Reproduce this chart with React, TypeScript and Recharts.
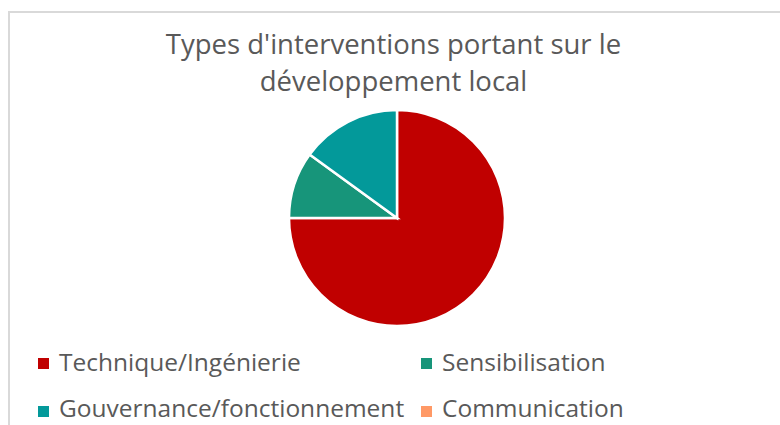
import { PieChart, Pie, Cell, Legend } from 'recharts'

const categories = ['Technique/Ingénierie', 'Sensibilisation', 'Gouvernance/fonctionnement', 'Communication']
const values = [75, 10, 15, 0]
const colors = ['#C00000', '#17957A', '#03999A', '#FF9966']
const titleLines = ["Types d'interventions portant sur le", 'développement local']

const data = categories.map((name, i) => ({ name, value: values[i] }))

const FONT = '"Open Sans", sans-serif'
const TEXT = '#595959'

// legend sits in a wrapper whose top is at y=340
function LegendBox() {
  return (
    <div style={{ position: 'relative', width: 780, height: 85 }}>
      {categories.map((name, i) => {
        const col = i % 2
        const row = Math.floor(i / 2)
        return (
          <div key={name}>
            <span
              style={{
                position: 'absolute',
                left: col === 0 ? 38 : 421,
                top: 18 + row * 48,
                width: 11,
                height: 11,
                background: colors[i],
              }}
            />
            <span
              style={{
                position: 'absolute',
                left: col === 0 ? 59 : 442,
                top: 10 + row * 46,
                fontFamily: FONT,
                fontSize: 24.5,
                lineHeight: '24px',
                color: TEXT,
                whiteSpace: 'nowrap',
              }}
            >
              {name}
            </span>
          </div>
        )
      })}
    </div>
  )
}

export default function App() {
  return (
    <div style={{ position: 'absolute', left: 0, top: 0, width: 780, height: 425, overflow: 'hidden', background: '#fff' }}>
      <div
        style={{
          position: 'absolute',
          left: 8,
          top: 11,
          width: 900,
          height: 600,
          border: '2px solid #D9D9D9',
        }}
      />
      <div
        style={{
          position: 'absolute',
          left: 0,
          top: 26,
          width: 787,
          textAlign: 'center',
          fontFamily: FONT,
          fontSize: 27.5,
          lineHeight: '36.5px',
          color: TEXT,
        }}
      >
        {titleLines.map((l) => (
          <div key={l}>{l}</div>
        ))}
      </div>
      <div style={{ position: 'absolute', left: 0, top: 0 }}>
        <PieChart width={780} height={425} margin={{ top: 0, right: 0, bottom: 0, left: 0 }}>
          <Pie
            data={data}
            dataKey="value"
            nameKey="name"
            cx={397}
            cy={218}
            outerRadius={108}
            startAngle={90}
            endAngle={-270}
            stroke="#FFFFFF"
            strokeWidth={2.5}
            isAnimationActive={false}
          >
            {data.map((d, i) => (
              <Cell key={d.name} fill={colors[i]} />
            ))}
          </Pie>
          <Legend
            content={() => <LegendBox />}
            wrapperStyle={{ position: 'absolute', left: 0, top: 340, width: 780, height: 85 }}
          />
        </PieChart>
      </div>
    </div>
  )
}
